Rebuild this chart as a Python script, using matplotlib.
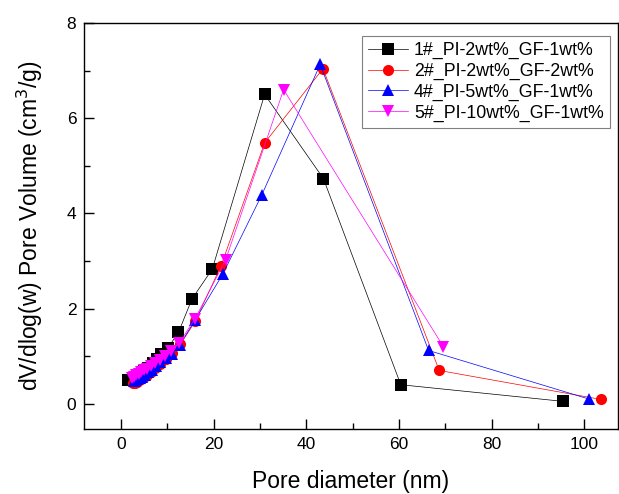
import matplotlib
matplotlib.use("Agg")
import matplotlib.pyplot as plt
from matplotlib.ticker import MultipleLocator

plt.rcParams["font.family"] = ["Liberation Sans", "DejaVu Sans"]

# pore diameter (nm) and dV/dlog(w) (cm3/g)
d1 = [1.6, 2.2, 2.8, 3.4, 4.1, 4.9, 5.8, 6.8, 7.7, 8.7, 10.1, 12.4, 15.3, 19.7, 31.0, 43.7, 60.4, 95.5]
v1 = [0.49, 0.50, 0.53, 0.57, 0.62, 0.68, 0.76, 0.85, 0.95, 1.05, 1.17, 1.50, 2.20, 2.83, 6.50, 4.73, 0.40, 0.05]

d2 = [2.6, 3.0, 3.4, 3.9, 4.4, 5.0, 5.7, 6.5, 7.4, 8.4, 9.6, 11.0, 12.8, 16.0, 21.6, 31.0, 43.6, 68.7, 103.7]
v2 = [0.43, 0.44, 0.46, 0.49, 0.52, 0.56, 0.61, 0.67, 0.75, 0.84, 0.94, 1.06, 1.25, 1.73, 2.90, 5.48, 7.04, 0.70, 0.09]

d4 = [2.7, 3.1, 3.5, 4.0, 4.5, 5.1, 5.8, 6.6, 7.5, 8.5, 9.6, 11.0, 12.7, 16.0, 22.0, 30.4, 43.0, 66.4, 101.0]
v4 = [0.47, 0.49, 0.51, 0.54, 0.57, 0.61, 0.66, 0.72, 0.79, 0.87, 0.96, 1.05, 1.24, 1.76, 2.73, 4.39, 7.13, 1.12, 0.10]

d5 = [2.3, 2.8, 3.3, 3.8, 4.4, 5.0, 5.7, 6.5, 7.4, 8.4, 9.5, 10.8, 12.5, 16.0, 22.6, 35.1, 69.6]
v5 = [0.55, 0.57, 0.60, 0.63, 0.66, 0.70, 0.74, 0.80, 0.86, 0.93, 1.00, 1.10, 1.27, 1.79, 3.03, 6.60, 1.20]

series = [
    (d1, v1, "1#_PI-2wt%_GF-1wt%", "black", "s"),
    (d2, v2, "2#_PI-2wt%_GF-2wt%", "red", "o"),
    (d4, v4, "4#_PI-5wt%_GF-1wt%", "blue", "^"),
    (d5, v5, "5#_PI-10wt%_GF-1wt%", "magenta", "v"),
]

fig = plt.figure(figsize=(6.19, 4.94), dpi=100)
ax = fig.add_axes([84 / 619, 1 - 429 / 494, 534 / 619, 406 / 494])

for x, y, lab, col, mk in series:
    ax.plot(x, y, color=col, marker=mk, markersize=8, linewidth=0.5,
            markeredgewidth=0, label=lab)

ax.set_xlim(-8, 107.3)
ax.set_ylim(-0.53, 8)
ax.xaxis.set_major_locator(MultipleLocator(20))
ax.xaxis.set_minor_locator(MultipleLocator(10))
ax.yaxis.set_major_locator(MultipleLocator(2))
ax.yaxis.set_minor_locator(MultipleLocator(1))
ax.tick_params(which="both", direction="in", labelsize=12.5, width=1, pad=5.5)
ax.tick_params(which="major", length=7)
ax.tick_params(which="minor", length=4)
for s in ax.spines.values():
    s.set_linewidth(1)

ax.set_xlabel("Pore diameter (nm)", fontsize=16.5, labelpad=13.5)
ax.set_ylabel("dV/dlog(w) Pore Volume (cm$^3$/g)", fontsize=16.5, labelpad=16)

leg = ax.legend(loc="upper right", bbox_to_anchor=(0.985, 0.968), borderaxespad=0,
                fontsize=12.8, fancybox=False, framealpha=1, edgecolor="gray",
                handlelength=2.25, labelspacing=0.2, borderpad=0.35, handletextpad=0.35)
leg.get_frame().set_linewidth(0.8)

fig.savefig("out.png", dpi=100)
